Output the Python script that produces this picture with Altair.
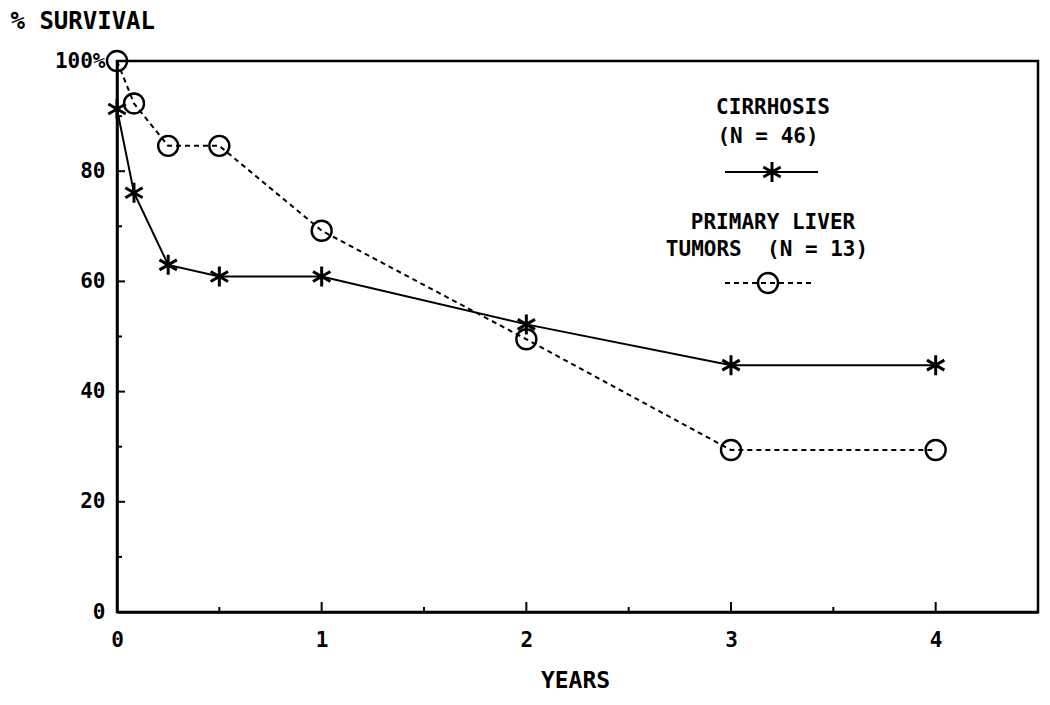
import altair as alt
import pandas as pd

# ---- data ----
years = [0, 0.083, 0.25, 0.5, 1, 2, 3, 4]
cirrhosis = [91.3, 76.1, 63.0, 60.9, 60.9, 52.2, 44.8, 44.8]
tumors = [100.0, 92.3, 84.6, 84.6, 69.2, 49.5, 29.4, 29.4]

x_labels = [0, 1, 2, 3, 4]
y_labels = [0, 20, 40, 60, 80, 100]
x_major_ticks = [1, 2, 3, 4]
x_minor_ticks = [0.5, 1.5, 2.5, 3.5]
y_major_ticks = [20, 40, 60, 80]
y_minor_ticks = [10, 30, 50, 70, 90]

FONT = "DejaVu Sans Mono"
W, H = 921, 551
STAR = "M0,-1L0,1M-0.87,-0.5L0.87,0.5M-0.87,0.5L0.87,-0.5"
NB = "\u00a0"

df_c = pd.DataFrame({"year": years, "surv": cirrhosis})
df_t = pd.DataFrame({"year": years, "surv": tumors})

xs = alt.Scale(domain=[0, 4.5], nice=False, zero=False)
ys = alt.Scale(domain=[0, 100], nice=False)

X = alt.X("year:Q", scale=xs,
          axis=alt.Axis(values=x_labels, format="d", ticks=False, grid=False,
                        labelFont=FONT, labelFontSize=21, labelFontWeight="bold",
                        labelPadding=17, labelColor="black", domainColor="black",
                        domainWidth=2.5, title="YEARS", titleFont=FONT,
                        titleFontSize=23, titleFontWeight="bold", titleX=458,
                        titleY=68, titleBaseline="middle", titleColor="black",
                        labelFlush=False))
Y = alt.Y("surv:Q", scale=ys,
          axis=alt.Axis(values=y_labels, ticks=False, grid=False, labelFont=FONT,
                        labelFontSize=21, labelFontWeight="bold", labelPadding=12,
                        labelColor="black", domainColor="black", domainWidth=2.5,
                        labelExpr="datum.value == 100 ? '100%' : datum.label",
                        labelFlush=False,
                        title="%" + NB + "SURVIVAL", titleFont=FONT, titleFontSize=24,
                        titleFontWeight="bold", titleAngle=0, titleAlign="left",
                        titleBaseline="middle", titleX=-107, titleY=-40,
                        titleColor="black"))

line_c = alt.Chart(df_c).mark_line(color="black", strokeWidth=2).encode(x=X, y=Y)
pts_c = alt.Chart(df_c).mark_point(shape=STAR, size=400, color="black", opacity=1,
                                   strokeWidth=3, filled=False).encode(x=X, y=Y)
line_t = alt.Chart(df_t).mark_line(color="black", strokeWidth=2,
                                   strokeDash=[5, 4]).encode(x=X, y=Y)
pts_t = alt.Chart(df_t).mark_point(shape="circle", size=400, color="black", opacity=1,
                                   strokeWidth=2.4, filled=False).encode(x=X, y=Y)

# inward ticks
ty_maj = alt.Chart(pd.DataFrame({"v": y_major_ticks})).mark_rule(
    color="black", strokeWidth=2).encode(
    y=alt.Y("v:Q", scale=ys), x=alt.value(0), x2=alt.value(8))
ty_min = alt.Chart(pd.DataFrame({"v": y_minor_ticks})).mark_rule(
    color="black", strokeWidth=2).encode(
    y=alt.Y("v:Q", scale=ys), x=alt.value(0), x2=alt.value(5))
tx_maj = alt.Chart(pd.DataFrame({"v": x_major_ticks})).mark_rule(
    color="black", strokeWidth=2).encode(
    x=alt.X("v:Q", scale=xs), y=alt.value(H), y2=alt.value(H - 10))
tx_min = alt.Chart(pd.DataFrame({"v": x_minor_ticks})).mark_rule(
    color="black", strokeWidth=2).encode(
    x=alt.X("v:Q", scale=xs), y=alt.value(H), y2=alt.value(H - 5))

# legend
def ltext(t, x, y):
    return alt.Chart(pd.DataFrame({"t": [t]})).mark_text(
        font=FONT, fontSize=21, fontWeight="bold", color="black",
        baseline="middle").encode(text="t:N", x=alt.value(x), y=alt.value(y))

leg_text = ltext("CIRRHOSIS", 656, 47)
leg_text2 = ltext("(N" + NB + "=" + NB + "46)", 651, 76)
leg_text3 = ltext("PRIMARY" + NB + "LIVER", 656, 162)
leg_text4 = ltext("TUMORS" + NB + NB + "(N" + NB + "=" + NB + "13)", 650, 189)
leg_line_c = alt.Chart(pd.DataFrame({"a": [0]})).mark_rule(
    color="black", strokeWidth=2).encode(
    x=alt.value(608), x2=alt.value(701), y=alt.value(111))
leg_pt_c = alt.Chart(pd.DataFrame({"a": [0]})).mark_point(
    shape=STAR, size=400, color="black", opacity=1, strokeWidth=3).encode(
    x=alt.value(655), y=alt.value(111))
leg_line_t = alt.Chart(pd.DataFrame({"a": [0]})).mark_rule(
    color="black", strokeWidth=2, strokeDash=[5, 4]).encode(
    x=alt.value(608), x2=alt.value(698), y=alt.value(222))
leg_pt_t = alt.Chart(pd.DataFrame({"a": [0]})).mark_point(
    shape="circle", size=400, color="black", opacity=1, strokeWidth=2.4).encode(
    x=alt.value(651), y=alt.value(222))

chart = alt.layer(
    line_c, line_t, pts_c, pts_t,
    ty_maj, ty_min, tx_maj, tx_min,
    leg_text, leg_text2, leg_text3, leg_text4,
    leg_line_c, leg_pt_c, leg_line_t, leg_pt_t,
).properties(
    width=W, height=H,
    autosize=alt.AutoSizeParams(type="none"),
    padding={"left": 109, "top": 53, "right": 4, "bottom": 86},
    background="white",
).configure_view(stroke="black", strokeWidth=2.5)

chart.save("out.html", embed_options={"renderer": "svg", "actions": False})
